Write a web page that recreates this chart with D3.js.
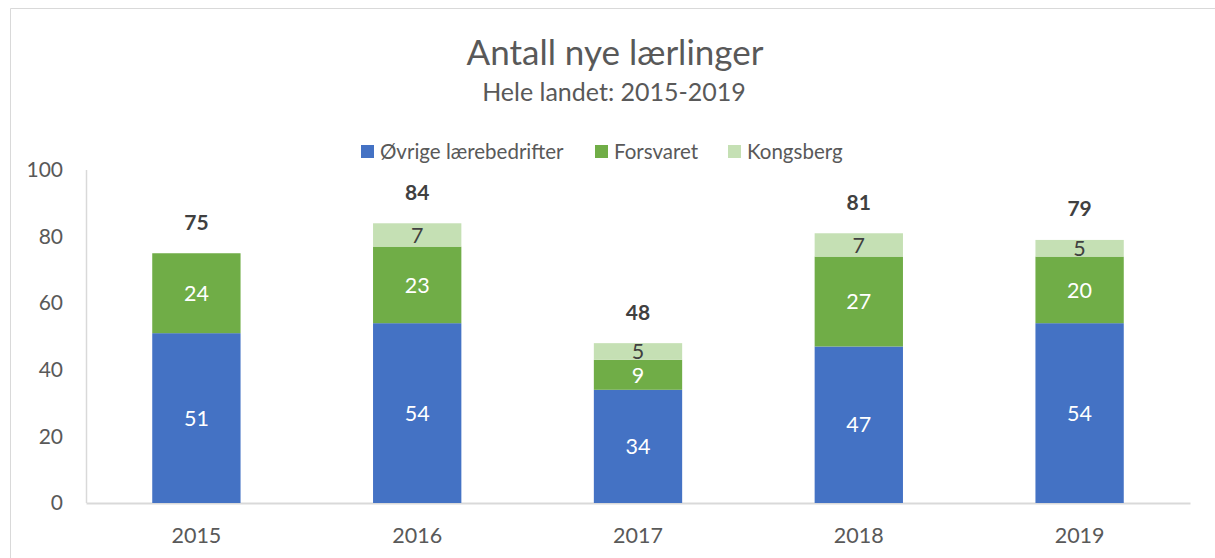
<!DOCTYPE html>
<html>
<head>
<meta charset="utf-8">
<script src="https://cdn.jsdelivr.net/npm/d3@7/dist/d3.min.js"></script>
<style>
  html, body { margin: 0; padding: 0; background: #fff; }
  svg { display: block; font-family: Lato, "Open Sans", sans-serif; }
</style>
</head>
<body>
<svg id="chart" width="1215" height="558"></svg>
<script>
const categories = ["2015", "2016", "2017", "2018", "2019"];
const seriesNames = ["Øvrige lærebedrifter", "Forsvaret", "Kongsberg"];
const ovrige = [51, 54, 34, 47, 54];
const forsvaret = [24, 23, 9, 27, 20];
const kongsberg = [0, 7, 5, 7, 5];
const totals = [75, 84, 48, 81, 79];
const yTicks = [0, 20, 40, 60, 80, 100];
const colors = ["#4472C4", "#70AD47", "#C5E0B4"];
const labelColors = ["#ffffff", "#ffffff", "#404040"];

const svg = d3.select("#chart");
const W = 1215, H = 558;
const margin = { left: 86, right: 25, top: 170, bottom: 55 };

// outer chart border
svg.append("path")
  .attr("d", `M10.5,${H} L10.5,8.5 L${W},8.5`)
  .attr("fill", "none").attr("stroke", "#d9d9d9").attr("stroke-width", 1);

const x = d3.scaleBand().domain(categories)
  .range([margin.left, W - margin.right])
  .paddingInner(0.6).paddingOuter(0.3);
const y = d3.scaleLinear().domain([0, 100]).range([H - margin.bottom, margin.top]);

const rows = categories.map((c, i) => ({ cat: c, s0: ovrige[i], s1: forsvaret[i], s2: kongsberg[i] }));
const stack = d3.stack().keys(["s0", "s1", "s2"]);
const stacked = stack(rows);

// axes lines
svg.append("line").attr("x1", margin.left + 0.5).attr("x2", margin.left + 0.5)
  .attr("y1", y(100)).attr("y2", y(0)).attr("stroke", "#d9d9d9").attr("stroke-width", 1.5);

const yAxis = d3.axisLeft(y).tickValues(yTicks).tickSize(0).tickPadding(23);
const gy = svg.append("g").attr("transform", `translate(${margin.left},0)`).call(yAxis);
gy.select(".domain").remove();
gy.selectAll("text").attr("fill", "#595959").style("font-size", "21px")
  .style("font-family", "Lato, sans-serif");

const xAxis = d3.axisBottom(x).tickSize(0).tickPadding(22);
const gx = svg.append("g").attr("transform", `translate(0,${y(0)})`).call(xAxis);
gx.select(".domain").attr("stroke", "#d9d9d9").attr("stroke-width", 2);
gx.selectAll("text").attr("fill", "#595959").style("font-size", "21.5px")
  .style("font-family", "Lato, sans-serif").attr("dy", "0.35em").attr("y", 32);

// bars
const layers = svg.append("g").selectAll("g").data(stacked).join("g")
  .attr("fill", (d, i) => colors[i]);
layers.selectAll("rect").data(d => d).join("rect")
  .attr("x", d => x(d.data.cat))
  .attr("width", x.bandwidth())
  .attr("y", d => y(d[1]))
  .attr("height", d => y(d[0]) - y(d[1]));

// segment labels
stacked.forEach((layer, li) => {
  svg.append("g").selectAll("text").data(layer.filter(d => d[1] - d[0] > 0)).join("text")
    .attr("x", d => x(d.data.cat) + x.bandwidth() / 2)
    .attr("y", d => (y(d[0]) + y(d[1])) / 2)
    .attr("dy", "0.36em")
    .attr("text-anchor", "middle")
    .attr("fill", labelColors[li])
    .style("font-size", "21.5px")
    .text(d => d[1] - d[0]);
});

// totals
svg.append("g").selectAll("text").data(categories).join("text")
  .attr("x", c => x(c) + x.bandwidth() / 2)
  .attr("y", (c, i) => y(totals[i]) - 31)
  .attr("dy", "0.36em")
  .attr("text-anchor", "middle")
  .attr("fill", "#404040")
  .style("font-size", "21px").style("font-weight", "bold")
  .text((c, i) => totals[i]);

// titles
svg.append("text").attr("x", 615).attr("y", 53).attr("dy", "0.35em")
  .attr("text-anchor", "middle").attr("fill", "#595959")
  .style("font-size", "35px").text("Antall nye lærlinger");
svg.append("text").attr("x", 614).attr("y", 92).attr("dy", "0.35em")
  .attr("text-anchor", "middle").attr("fill", "#595959")
  .style("font-size", "25px").text("Hele landet: 2015-2019");

// legend
const legendX = [361, 595, 728];
const lg = svg.append("g");
seriesNames.forEach((name, i) => {
  lg.append("rect").attr("x", legendX[i]).attr("y", 145).attr("width", 13).attr("height", 13)
    .attr("fill", colors[i]);
  lg.append("text").attr("x", legendX[i] + 19).attr("y", 151.5).attr("dy", "0.35em")
    .attr("fill", "#595959").style("font-size", "20.5px").text(name);
});
</script>
</body>
</html>
